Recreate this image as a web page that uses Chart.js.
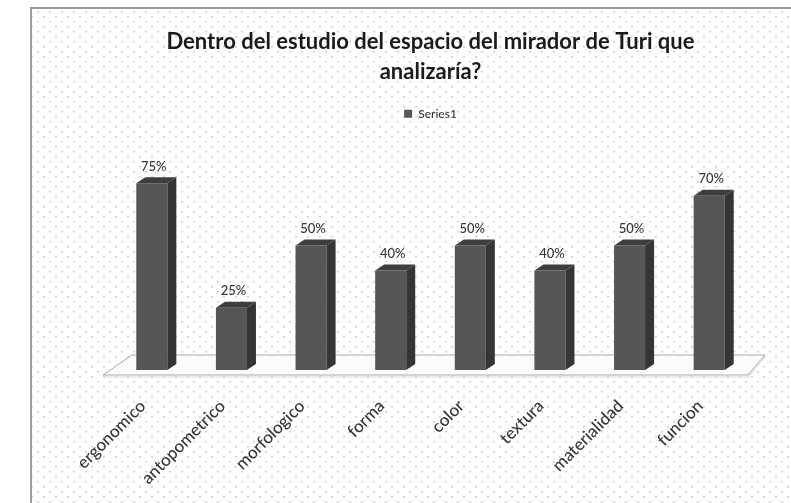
<!DOCTYPE html>
<html>
<head>
<meta charset="utf-8">
<script src="https://cdn.jsdelivr.net/npm/chart.js@4"></script>
<style>
  html, body { margin: 0; padding: 0; background: #fff; }
  #wrap { position: relative; width: 791px; height: 503px; }
</style>
</head>
<body>
<div id="wrap"><canvas id="chart" width="791" height="503"></canvas></div>
<script>
const categories = ['ergonomico', 'antopometrico', 'morfologico', 'forma', 'color', 'textura', 'materialidad', 'funcion'];
const percentages = [75, 25, 50, 40, 50, 40, 50, 70];
const seriesName = 'Series1';
const titleLines = ['Dentro del estudio del espacio del mirador de Turi que', 'analizaría?'];

const FONT = 'Lato, "Liberation Sans", sans-serif';
const textGrey = '#363636';

// tile of small grey dots used as the chart background
function dotPattern(ctx) {
  const tile = document.createElement('canvas');
  tile.width = 12;
  tile.height = 10;
  const t = tile.getContext('2d');
  t.fillStyle = '#fff';
  t.fillRect(0, 0, 12, 10);
  t.fillStyle = '#d0d0d0';
  t.fillRect(1, 1, 2, 1.5);
  t.fillRect(7, 6, 2, 1.5);
  return ctx.createPattern(tile, 'repeat');
}

const backgroundPlugin = {
  id: 'background',
  beforeDraw(chart) {
    const ctx = chart.ctx;
    ctx.save();
    ctx.fillStyle = '#fff';
    ctx.fillRect(0, 0, chart.width, chart.height);
    ctx.fillStyle = dotPattern(ctx);
    ctx.fillRect(32, 9, chart.width - 32, chart.height - 9);
    ctx.strokeStyle = '#9c9c9c';
    ctx.lineWidth = 2;
    ctx.beginPath();
    ctx.moveTo(31, chart.height);
    ctx.lineTo(31, 8);
    ctx.lineTo(chart.width, 8);
    ctx.stroke();

    // floor slab under the bars
    const a = chart.chartArea;
    const y0 = chart.scales.y.getPixelForValue(0);
    ctx.fillStyle = '#fbfbfb';
    ctx.strokeStyle = '#a8a8a8';
    ctx.lineWidth = 1;
    ctx.beginPath();
    ctx.moveTo(a.left - 9, y0 + 5);
    ctx.lineTo(a.right - 1, y0 + 5);
    ctx.lineTo(a.right + 16, y0 - 15);
    ctx.lineTo(a.left + 20, y0 - 15);
    ctx.closePath();
    ctx.fill();
    ctx.stroke();
    ctx.strokeStyle = '#d8d8d8';
    ctx.beginPath();
    ctx.moveTo(a.left - 9, y0 + 7);
    ctx.lineTo(a.right - 1, y0 + 7);
    ctx.lineTo(a.right + 16, y0 - 13);
    ctx.stroke();
    ctx.restore();
  }
};

// side and top faces of each bar plus the value labels
const depthPlugin = {
  id: 'depth',
  afterDatasetsDraw(chart) {
    const ctx = chart.ctx;
    const dx = 9, dy = 6;
    ctx.save();
    chart.getDatasetMeta(0).data.forEach((bar, i) => {
      const l = bar.x - bar.width / 2;
      const r = bar.x + bar.width / 2;
      const top = bar.y;
      const bottom = bar.base;
      ctx.fillStyle = '#353535';
      ctx.beginPath();
      ctx.moveTo(r, bottom);
      ctx.lineTo(r + dx, bottom - dy);
      ctx.lineTo(r + dx, top - dy);
      ctx.lineTo(r, top);
      ctx.closePath();
      ctx.fill();
      ctx.fillStyle = '#3e3e3e';
      ctx.beginPath();
      ctx.moveTo(l, top);
      ctx.lineTo(l + dx, top - dy);
      ctx.lineTo(r + dx, top - dy);
      ctx.lineTo(r, top);
      ctx.closePath();
      ctx.fill();

      ctx.fillStyle = textGrey;
      ctx.font = '500 13px ' + FONT;
      ctx.textAlign = 'center';
      ctx.textBaseline = 'bottom';
      ctx.fillText(percentages[i] + '%', bar.x + 2, top - dy - 4);
    });
    ctx.restore();
  }
};

function drawChart() {
  new Chart(document.getElementById('chart'), {
    type: 'bar',
    data: {
      labels: categories,
      datasets: [{
        label: seriesName,
        data: percentages,
        backgroundColor: '#565656',
        barPercentage: 0.39,
        categoryPercentage: 1
      }]
    },
    options: {
      responsive: false,
      animation: false,
      layout: { padding: { left: 112, right: 42, top: 0, bottom: 0 } },
      plugins: {
        title: {
          display: true,
          text: titleLines,
          color: '#1a1a1a',
          font: { family: FONT, size: 22, weight: 'bold', lineHeight: 1.36 },
          padding: { top: 27, bottom: 11 }
        },
        legend: {
          labels: {
            boxWidth: 8,
            boxHeight: 8,
            color: textGrey,
            font: { family: FONT, size: 12, weight: '500' }
          }
        },
        tooltip: { enabled: false }
      },
      scales: {
        x: {
          grid: { display: false, drawTicks: false },
          border: { display: false },
          afterFit(scale) { scale.height = 133; },
          ticks: {
            minRotation: 45,
            maxRotation: 45,
            labelOffset: -9,
            padding: 26,
            color: textGrey,
            font: { family: FONT, size: 17, weight: '500' }
          }
        },
        y: { display: false, min: 0, max: 96.5 }
      }
    },
    plugins: [backgroundPlugin, depthPlugin]
  });
}

// make sure Lato is ready before the canvas text is measured
Promise.all([
  document.fonts.load('500 17px Lato'),
  document.fonts.load('bold 22px Lato')
]).then(drawChart, drawChart);
</script>
</body>
</html>
